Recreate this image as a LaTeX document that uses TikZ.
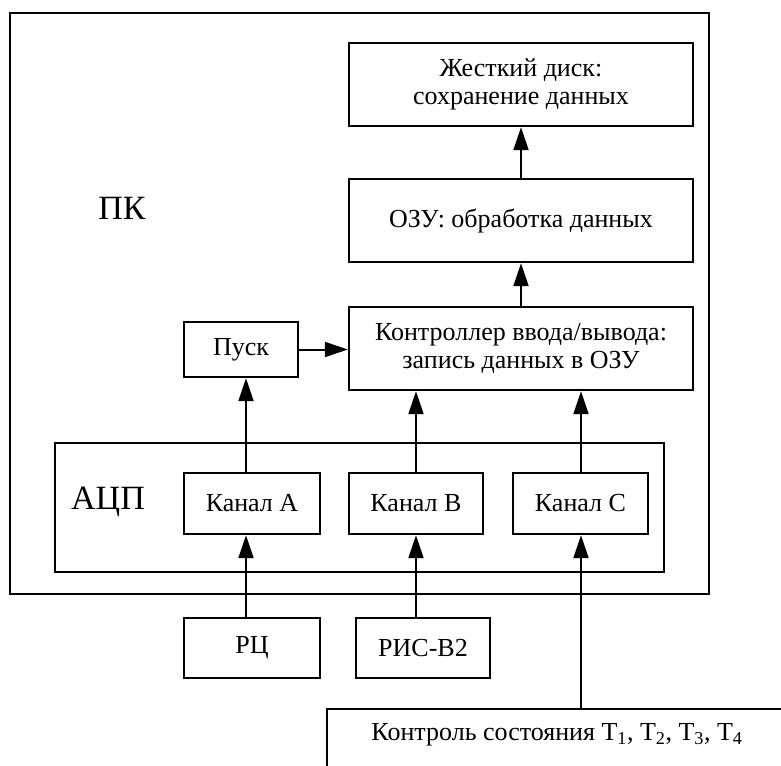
\documentclass[tikz,border=0pt]{standalone}
\usepackage{fontspec}
\setmainfont{Liberation Serif}
\usetikzlibrary{arrows.meta}
\begin{document}
\begin{tikzpicture}[x=1pt,y=-1pt,
  box/.style={draw, line width=2.4pt, inner sep=0pt, align=center,
    font=\fontsize{26}{28}\selectfont},
  big/.style={font=\fontsize{34}{38}\selectfont, inner sep=0pt},
  arr/.style={line width=2pt, -{Triangle[length=23pt,width=15pt]}}]
\path[use as bounding box, fill=white] (0,0) rectangle (781,765);
\clip (0,0) rectangle (781,765);
% outer PC box
\node[box, minimum width=699, minimum height=581] (pc) at (359.5,303.5) {};
\node[big] (pclabel) at (122,208) {ПК};
% PC blocks
\node[box, minimum width=344, minimum height=83] (hdd) at (521,84.5) {Жесткий диск:\\сохранение данных};
\node[box, minimum width=344, minimum height=83] (ram) at (521,220.5) {ОЗУ: обработка данных};
\node[box, minimum width=344, minimum height=83] (ctrl) at (521,348.5) {Контроллер ввода/вывода:\\запись данных в ОЗУ};
\node[box, minimum width=114, minimum height=55] (pusk) at (241,349.5) {Пуск};
% ADC
\node[box, minimum width=609, minimum height=129] (adc) at (359.5,507.5) {};
\node[big] (adclabel) at (108,502) {АЦП};
\node[box, minimum width=136, minimum height=61] (ka) at (252,503.5) {Канал А};
\node[box, minimum width=134, minimum height=61] (kb) at (416,503.5) {Канал В};
\node[box, minimum width=135, minimum height=61] (kc) at (580.5,503.5) {Канал С};
% sources
\node[box, minimum width=136, minimum height=60] (rc) at (252,648) {РЦ};
\node[box, minimum width=134, minimum height=60] (ris) at (423,648) {РИС-В2};
\node[box, minimum width=500, minimum height=120, anchor=north west] (kt) at (326,708) {};
\node[font=\fontsize{26}{28}\selectfont, inner sep=0pt] (kttext) at (557,735) {Контроль состояния T\textsubscript{1}, T\textsubscript{2}, T\textsubscript{3}, T\textsubscript{4}};
% columns
\coordinate (colA) at (246,0);
\coordinate (colC) at (581,0);
% arrows
\draw[arr] (ram.north) -- (hdd.south);
\draw[arr] (ctrl.north) -- (ram.south);
\draw[arr] (pusk.east) -- (pusk.east -| ctrl.west);
\draw[arr] (ka.north -| colA) -- (pusk.south -| colA);
\draw[arr] (rc.north -| colA) -- (ka.south -| colA);
\draw[arr] (kb.north) -- (ctrl.south -| kb.north);
\draw[arr] (ris.north -| kb.south) -- (kb.south);
\draw[arr] (kc.north -| colC) -- (ctrl.south -| colC);
\draw[arr] (kt.north -| colC) -- (kc.south -| colC);
\end{tikzpicture}
\end{document}
